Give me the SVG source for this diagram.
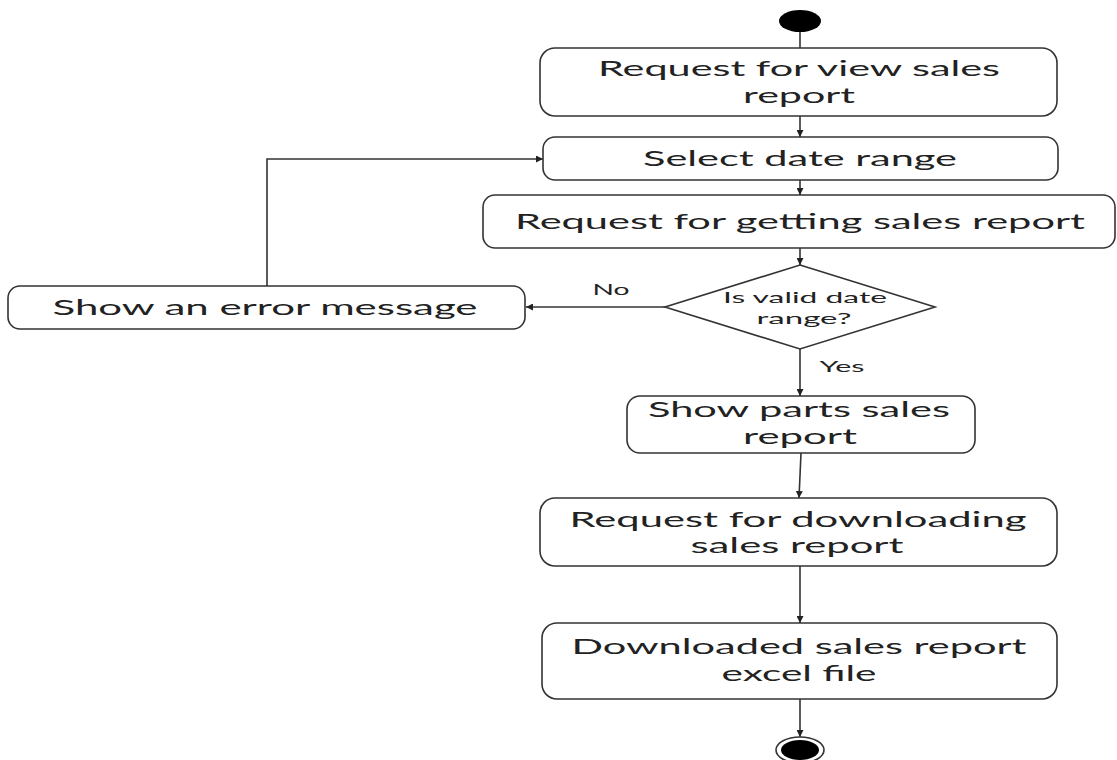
<svg xmlns="http://www.w3.org/2000/svg" width="1117" height="760" viewBox="0 0 1117 760">
<style>
.box{fill:#fff;stroke:#333;stroke-width:1.6}
.t{font-family:Lato,"Open Sans","Liberation Sans",sans-serif;font-size:21px;fill:#222;text-anchor:middle}
.s{font-family:Lato,"Open Sans","Liberation Sans",sans-serif;font-size:16px;fill:#222;text-anchor:middle}
.c{fill:none;stroke:#333;stroke-width:1.6}
</style>
<defs>
<marker id="ah" viewBox="0 0 10 10" refX="10" refY="5" markerWidth="7" markerHeight="7" markerUnits="userSpaceOnUse" orient="auto">
<path d="M0,0 L10,5 L0,10 z" fill="#222"/>
</marker>
</defs>
<rect width="1117" height="760" fill="#fff"/>
<g id="connectors">
<path class="c" d="M800,32 V48"/>
<path class="c" d="M800,116 V137" marker-end="url(#ah)"/>
<path class="c" d="M800,180 V195" marker-end="url(#ah)"/>
<path class="c" d="M800,248 V265" marker-end="url(#ah)"/>
<path class="c" d="M665,307 H526" marker-end="url(#ah)"/>
<path class="c" d="M267,286 V159 H543" marker-end="url(#ah)"/>
<path class="c" d="M800,349 V396" marker-end="url(#ah)"/>
<path class="c" d="M801,453 L799,498" marker-end="url(#ah)"/>
<path class="c" d="M800,566 V623" marker-end="url(#ah)"/>
<path class="c" d="M800,699 V737" marker-end="url(#ah)"/>
<text class="s" x="611" y="295" textLength="37" lengthAdjust="spacingAndGlyphs">No</text>
<text class="s" x="842" y="372" textLength="45" lengthAdjust="spacingAndGlyphs">Yes</text>
</g>
<g id="start"><ellipse cx="800" cy="21" rx="21" ry="11" fill="#000"/></g>
<g id="n1">
<rect class="box" x="540" y="48" width="517" height="68" rx="15"/>
<text class="t" x="799" y="76" textLength="402" lengthAdjust="spacingAndGlyphs">Request for view sales</text>
<text class="t" x="799" y="103" textLength="112" lengthAdjust="spacingAndGlyphs">report</text>
</g>
<g id="n2">
<rect class="box" x="543" y="137" width="515" height="43" rx="12"/>
<text class="t" x="800" y="166" textLength="314" lengthAdjust="spacingAndGlyphs">Select date range</text>
</g>
<g id="n3">
<rect class="box" x="483" y="195" width="632" height="53" rx="12"/>
<text class="t" x="800" y="229" textLength="570" lengthAdjust="spacingAndGlyphs">Request for getting sales report</text>
</g>
<g id="decision">
<polygon class="box" points="800,265 935,307 800,349 665,307"/>
<text class="s" x="805" y="303" textLength="164" lengthAdjust="spacingAndGlyphs">Is valid date</text>
<text class="s" x="804" y="324" textLength="95" lengthAdjust="spacingAndGlyphs">range?</text>
</g>
<g id="err">
<rect class="box" x="8" y="286" width="517" height="43" rx="12"/>
<text class="t" x="265" y="315" textLength="425" lengthAdjust="spacingAndGlyphs">Show an error message</text>
</g>
<g id="n4">
<rect class="box" x="627" y="396" width="348" height="57" rx="13"/>
<text class="t" x="799" y="417" textLength="302" lengthAdjust="spacingAndGlyphs">Show parts sales</text>
<text class="t" x="800" y="444" textLength="114" lengthAdjust="spacingAndGlyphs">report</text>
</g>
<g id="n5">
<rect class="box" x="540" y="498" width="517" height="68" rx="15"/>
<text class="t" x="798" y="527" textLength="457" lengthAdjust="spacingAndGlyphs">Request for downloading</text>
<text class="t" x="797" y="553" textLength="213" lengthAdjust="spacingAndGlyphs">sales report</text>
</g>
<g id="n6">
<rect class="box" x="542" y="623" width="515" height="76" rx="15"/>
<text class="t" x="799" y="654" textLength="455" lengthAdjust="spacingAndGlyphs">Downloaded sales report</text>
<text class="t" x="799" y="681" textLength="155" lengthAdjust="spacingAndGlyphs">excel file</text>
</g>
<g id="end">
<ellipse cx="800" cy="750" rx="24" ry="13" fill="#fff" stroke="#333" stroke-width="1.6"/>
<ellipse cx="800" cy="750" rx="19" ry="10" fill="#000"/>
</g>
</svg>
